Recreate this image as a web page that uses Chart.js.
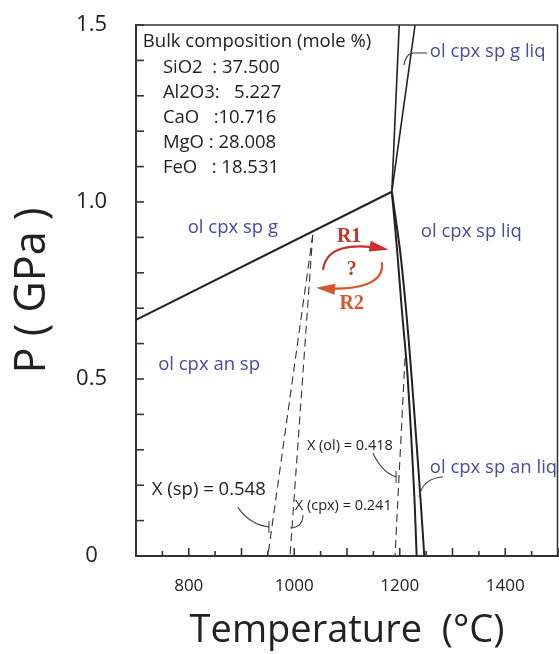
<!DOCTYPE html>
<html>
<head>
<meta charset="utf-8">
<script src="https://cdn.jsdelivr.net/npm/chart.js@4"></script>
<style>html,body{margin:0;background:#fff}canvas{display:block}</style>
</head>
<body>
<canvas id="c" width="559" height="654"></canvas>
<script>
// phase boundaries, temperature (°C) vs pressure (GPa)
const garnetOutT = [700, 1185];
const garnetOutP = [0.667, 1.029];
const upperLeftT = [1185, 1199];
const upperLeftP = [1.029, 1.5];
const upperRightT = [1185, 1229];
const upperRightP = [1.029, 1.5];
const lowerP = [1.029, 0.864, 0.695, 0.525, 0.356, 0.158, 0];
const lowerLeftT = [1185, 1195, 1204, 1214, 1221, 1228, 1232];
const lowerRightT = [1185, 1200.5, 1212, 1221.5, 1230, 1239.5, 1246.5];

// isopleths (dashed)
const spIsoT = [1035, 950];
const spIsoP = [0.907, 0];
const cpxIsoT = [1035, 992];
const cpxIsoP = [0.907, 0];
const olIsoT = [1210, 1191];
const olIsoP = [0.559, 0];

// bulk composition box
const oxides = ['SiO2', 'Al2O3', 'CaO', 'MgO', 'FeO'];
const oxideSep = ['  : ', ':   ', '   :', ' : ', '   : '];
const molePct = [37.500, 5.227, 10.716, 28.008, 18.531];

const fieldNames = ['ol cpx sp g liq', 'ol cpx sp g', 'ol cpx sp liq', 'ol cpx an sp', 'ol cpx sp an liq'];
const isoLabels = ['X (sp) = 0.548', 'X (ol) = 0.418', 'X (cpx) = 0.241'];

const xTicks = { min: 700, max: 1500, step: 50 };
const yTicks = { min: 0, max: 1.5, step: 0.1 };

const pts = (T, P) => T.map((t, i) => ({ x: t, y: P[i] }));

const FONT = '"Open Sans", sans-serif';
const BLUE = '#4a4a9e';

function solid(T, P, w, tension) {
  return { data: pts(T, P), showLine: true, pointRadius: 0, borderColor: '#222', borderWidth: w, tension: tension || 0 };
}
function dashed(T, P) {
  return { data: pts(T, P), showLine: true, pointRadius: 0, borderColor: '#333', borderWidth: 1.1, borderDash: [8, 5] };
}

function arrowArc(ctx, p0, c1, c2, p1, color) {
  ctx.strokeStyle = color;
  ctx.fillStyle = color;
  ctx.lineWidth = 2.2;
  ctx.beginPath();
  ctx.moveTo(p0[0], p0[1]);
  ctx.bezierCurveTo(c1[0], c1[1], c2[0], c2[1], p1[0], p1[1]);
  ctx.stroke();
  const a = Math.atan2(p1[1] - c2[1], p1[0] - c2[0]);
  const L = 16, W = 5.5;
  ctx.beginPath();
  ctx.moveTo(p1[0] + 3 * Math.cos(a), p1[1] + 3 * Math.sin(a));
  ctx.lineTo(p1[0] - L * Math.cos(a) + W * Math.sin(a), p1[1] - L * Math.sin(a) - W * Math.cos(a));
  ctx.lineTo(p1[0] - L * Math.cos(a) - W * Math.sin(a), p1[1] - L * Math.sin(a) + W * Math.cos(a));
  ctx.closePath();
  ctx.fill();
}

const overlay = {
  id: 'overlay',
  afterDatasetsDraw(chart) {
    const { ctx, chartArea: a, scales: { x, y } } = chart;
    const P = (t, p) => [x.getPixelForValue(t), y.getPixelForValue(p)];
    ctx.save();

    // top and right frame
    ctx.strokeStyle = '#333';
    ctx.lineWidth = 1.5;
    ctx.beginPath();
    ctx.moveTo(a.left, a.top);
    ctx.lineTo(a.right - 0.5, a.top);
    ctx.lineTo(a.right - 0.5, a.bottom);
    ctx.stroke();

    // inward tick marks
    ctx.lineWidth = 1.6;
    x.ticks.forEach(t => {
      const px = x.getPixelForValue(t.value);
      const len = t.value % 100 === 0 ? 8 : 5;
      ctx.beginPath(); ctx.moveTo(px, a.bottom); ctx.lineTo(px, a.bottom - len); ctx.stroke();
    });
    y.ticks.forEach(t => {
      const py = y.getPixelForValue(t.value);
      ctx.beginPath(); ctx.moveTo(a.left, py); ctx.lineTo(a.left + 8, py); ctx.stroke();
    });

    // bulk composition text
    ctx.fillStyle = '#222';
    ctx.textBaseline = 'middle';
    ctx.textAlign = 'left';
    ctx.font = '18.5px ' + FONT;
    let q = P(713, 1.452);
    ctx.fillText('Bulk composition (mole %)', q[0], q[1]);
    oxides.forEach((ox, i) => {
      q = P(751, 1.3785 - i * 0.0706);
      ctx.fillText(ox + oxideSep[i] + molePct[i].toFixed(3), q[0], q[1]);
    });

    // field labels
    ctx.fillStyle = BLUE;
    ctx.font = '18.5px ' + FONT;
    const fieldPos = [[1257, 1.424], [798, 0.927], [1240, 0.915], [742, 0.540], [1257, 0.249]];
    fieldNames.forEach((s, i) => { q = P(...fieldPos[i]); ctx.fillText(s, q[0], q[1]); });

    // isopleth labels
    ctx.fillStyle = '#222';
    const isoPos = [[730, 0.186, 18.5], [1024, 0.311, 14.5], [1001, 0.141, 14.5]];
    isoLabels.forEach((s, i) => {
      ctx.font = isoPos[i][2] + 'px ' + FONT;
      q = P(isoPos[i][0], isoPos[i][1]);
      ctx.fillText(s, q[0], q[1]);
    });

    // leader lines
    ctx.strokeStyle = '#444';
    ctx.lineWidth = 1.1;
    const curve = (s, c, e) => {
      const p0 = P(...s), p1 = P(...c), p2 = P(...e);
      ctx.beginPath(); ctx.moveTo(p0[0], p0[1]); ctx.quadraticCurveTo(p1[0], p1[1], p2[0], p2[1]); ctx.stroke();
    };
    const seg = (s, e) => {
      const p0 = P(...s), p1 = P(...e);
      ctx.beginPath(); ctx.moveTo(p0[0], p0[1]); ctx.lineTo(p1[0], p1[1]); ctx.stroke();
    };
    curve([1208, 1.387], [1211.5, 1.421], [1227, 1.421]);
    seg([1227, 1.421], [1252, 1.421]);
    curve([1236.5, 0.167], [1244, 0.22], [1282, 0.223]);
    curve([893, 0.138], [916, 0.088], [952, 0.082]);
    seg([952, 0.065], [952, 0.099]);
    curve([1149, 0.291], [1166, 0.237], [1193, 0.223]);
    seg([1193, 0.206], [1193, 0.240]);
    curve([1016.5, 0.116], [1016.5, 0.082], [992, 0.079]);

    // reaction arrows
    arrowArc(ctx, P(1054.5, 0.808), P(1060, 0.872), P(1106, 0.886), P(1173, 0.867), '#c9302c');
    arrowArc(ctx, P(1166, 0.830), P(1172, 0.772), P(1125, 0.748), P(1047, 0.757), '#d4572a');
    ctx.font = 'bold 20px "Liberation Serif", serif';
    ctx.textAlign = 'center';
    ctx.fillStyle = '#c9302c';
    q = P(1104, 0.901); ctx.fillText('R1', q[0], q[1]);
    ctx.fillStyle = '#b8402a';
    q = P(1109, 0.808); ctx.fillText('?', q[0], q[1]);
    ctx.fillStyle = '#d4572a';
    q = P(1109, 0.712); ctx.fillText('R2', q[0], q[1]);

    ctx.restore();
  }
};

new Chart(document.getElementById('c'), {
  type: 'scatter',
  data: {
    datasets: [
      solid(garnetOutT, garnetOutP, 2),
      solid(upperLeftT, upperLeftP, 1.6),
      solid(upperRightT, upperRightP, 1.6),
      solid(lowerLeftT, lowerP, 2, 0.3),
      solid(lowerRightT, lowerP, 2, 0.3),
      dashed(spIsoT, spIsoP),
      dashed(cpxIsoT, cpxIsoP),
      dashed(olIsoT, olIsoP)
    ]
  },
  options: {
    responsive: false,
    animation: false,
    devicePixelRatio: 1,
    layout: { padding: { top: 25, right: 1, left: 0, bottom: 0 } },
    plugins: { legend: { display: false }, tooltip: { enabled: false } },
    scales: {
      x: {
        type: 'linear',
        min: xTicks.min, max: xTicks.max,
        afterFit: s => { s.height = 98; s.paddingLeft = 0; s.paddingRight = 0; },
        grid: { display: false, drawTicks: false },
        border: { display: true, color: '#333', width: 2 },
        ticks: {
          stepSize: xTicks.step, autoSkip: false, maxRotation: 0, padding: 20,
          color: '#222', font: { family: FONT, size: 17 },
          callback: v => (v % 200 === 0 ? String(v) : '')
        },
        title: { display: true, text: 'Temperature  (°C)', color: '#222', font: { family: FONT, size: 38 }, padding: { top: 0, bottom: 0 } }
      },
      y: {
        type: 'linear',
        min: yTicks.min, max: yTicks.max,
        afterFit: s => { s.width = 136; s.paddingTop = 0; s.paddingBottom = 0; },
        grid: { display: false, drawTicks: false },
        border: { display: true, color: '#333', width: 2 },
        ticks: {
          stepSize: yTicks.step, autoSkip: false, crossAlign: 'center', padding: 29,
          color: '#222', font: { family: FONT, size: 22 },
          callback: v => {
            const k = Math.round(v * 10);
            if (k % 5 !== 0) return '';
            return k === 0 ? '0' : (k / 10).toFixed(1);
          }
        },
        title: { display: true, text: 'P ( GPa )', color: '#222', font: { family: FONT, size: 43 }, padding: { top: 7, bottom: 0 } }
      }
    }
  },
  plugins: [overlay]
});
</script>
</body>
</html>
